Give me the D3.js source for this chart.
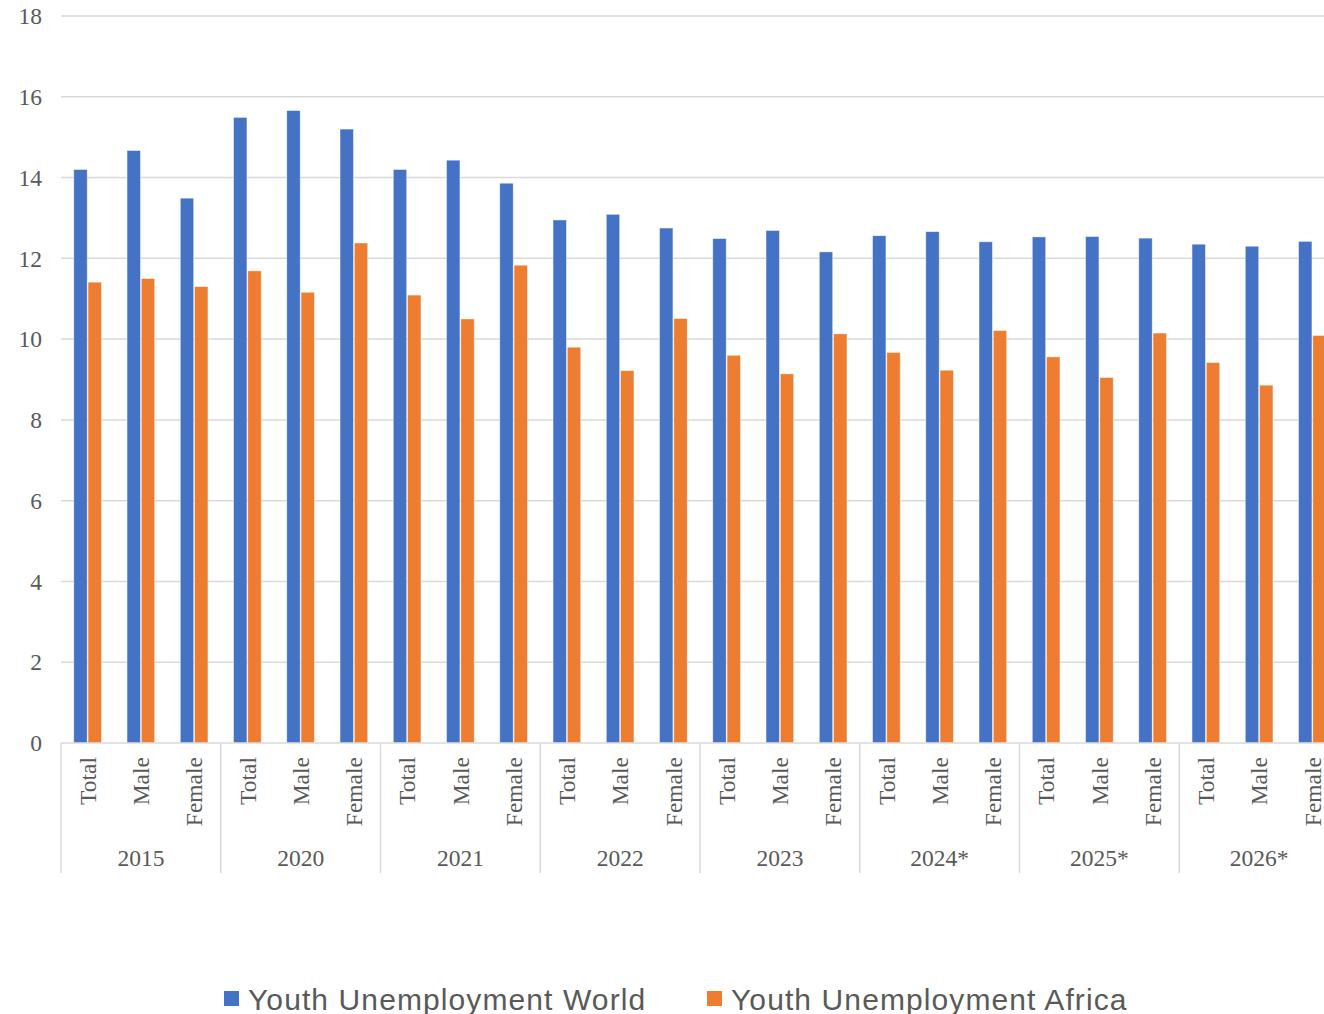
<!DOCTYPE html>
<html>
<head>
<meta charset="utf-8">
<script src="https://cdn.jsdelivr.net/npm/d3@7"></script>
<style>
  html, body { margin: 0; padding: 0; background: #fff; overflow: hidden; }
</style>
</head>
<body>
<svg id="chart"></svg>
<script>
// chart data
var years = ["2015", "2020", "2021", "2022", "2023", "2024*", "2025*", "2026*"];
var genders = ["Total", "Male", "Female"];
var seriesNames = ["Youth Unemployment World", "Youth Unemployment Africa"];
var world = [14.2, 14.67, 13.49, 15.49, 15.66, 15.2, 14.2, 14.43, 13.86, 12.95, 13.09, 12.75,
             12.49, 12.69, 12.16, 12.56, 12.66, 12.41, 12.53, 12.54, 12.5, 12.35, 12.3, 12.42];
var africa = [11.41, 11.5, 11.3, 11.69, 11.16, 12.38, 11.09, 10.5, 11.83, 9.8, 9.22, 10.51,
              9.6, 9.14, 10.13, 9.67, 9.23, 10.21, 9.56, 9.05, 10.15, 9.42, 8.86, 10.09];
var yTicks = [0, 2, 4, 6, 8, 10, 12, 14, 16, 18];
var colors = ["#4472C4", "#ED7D31"];

var width = 1324, height = 1014;
var plotLeft = 61, plotRight = 1339, plotTop = 16, plotBottom = 743;
var textColor = "#595959";
var serif = "'Liberation Serif', 'Times New Roman', serif";
var labelSize = "23.5px";

var svg = d3.select("#chart")
    .attr("width", width)
    .attr("height", height);

// one row per bar pair
var rows = [];
years.forEach((yr, i) => {
    genders.forEach((g, j) => {
        var k = i * 3 + j;
        rows.push({ key: yr + "|" + g, year: yr, gender: g, values: [world[k], africa[k]] });
    });
});

var x = d3.scaleBand()
    .domain(rows.map(d => d.key))
    .range([plotLeft, plotRight])
    .padding(0);

var bw = x.bandwidth();
var xs = d3.scaleBand()
    .domain([0, 1])
    .range([bw * 0.24, bw * 0.76])
    .paddingInner(0.06);

var y = d3.scaleLinear()
    .domain([0, 18])
    .range([plotBottom, plotTop]);

// gridlines
svg.append("g")
    .selectAll("line")
    .data(yTicks.filter(d => d > 0))
    .join("line")
    .attr("x1", plotLeft)
    .attr("x2", width)
    .attr("y1", d => y(d))
    .attr("y2", d => y(d))
    .attr("stroke", "#d9d9d9")
    .attr("stroke-width", 1.5);

// y labels
svg.append("g")
    .selectAll("text")
    .data(yTicks)
    .join("text")
    .attr("x", 42)
    .attr("y", d => y(d))
    .attr("dy", "0.35em")
    .attr("text-anchor", "end")
    .style("font-family", serif)
    .style("font-size", labelSize)
    .attr("fill", textColor)
    .text(d => d);

// bars
var groups = svg.append("g")
    .selectAll("g")
    .data(rows)
    .join("g")
    .attr("transform", d => `translate(${x(d.key)},0)`);

groups.selectAll("rect")
    .data(d => d.values.map((v, i) => ({ v: v, i: i })))
    .join("rect")
    .attr("x", d => xs(d.i))
    .attr("width", xs.bandwidth())
    .attr("y", d => y(d.v))
    .attr("height", d => y(0) - y(d.v))
    .attr("fill", d => colors[d.i])
    .attr("stroke", "#fff")
    .attr("stroke-opacity", 0.6)
    .attr("stroke-width", 0.75);

// x axis line
svg.append("line")
    .attr("x1", plotLeft)
    .attr("x2", width)
    .attr("y1", plotBottom)
    .attr("y2", plotBottom)
    .attr("stroke", "#d9d9d9")
    .attr("stroke-width", 1.5);

// group separators
var groupW = bw * 3;
svg.append("g")
    .selectAll("line")
    .data(d3.range(years.length + 1))
    .join("line")
    .attr("x1", d => plotLeft + d * groupW)
    .attr("x2", d => plotLeft + d * groupW)
    .attr("y1", plotBottom)
    .attr("y2", 873)
    .attr("stroke", "#d9d9d9")
    .attr("stroke-width", 1.5);

// gender labels
svg.append("g")
    .selectAll("text")
    .data(rows)
    .join("text")
    .attr("transform", d => `translate(${x(d.key) + bw / 2},757) rotate(-90)`)
    .attr("dy", "0.35em")
    .attr("text-anchor", "end")
    .style("font-family", serif)
    .style("font-size", labelSize)
    .attr("fill", textColor)
    .text(d => d.gender);

// year labels
svg.append("g")
    .selectAll("text")
    .data(years)
    .join("text")
    .attr("x", (d, i) => plotLeft + i * groupW + groupW / 2)
    .attr("y", 858)
    .attr("dy", "0.35em")
    .attr("text-anchor", "middle")
    .style("font-family", serif)
    .style("font-size", labelSize)
    .attr("fill", textColor)
    .text(d => d);

// legend
var legendX = [224, 707];
var legend = svg.append("g")
    .selectAll("g")
    .data(seriesNames)
    .join("g")
    .attr("transform", (d, i) => `translate(${legendX[i]},991)`);

legend.append("rect")
    .attr("width", 15)
    .attr("height", 15)
    .attr("fill", (d, i) => colors[i]);

legend.append("text")
    .attr("x", 24)
    .attr("y", 8)
    .attr("dy", "0.35em")
    .style("font-family", "'Liberation Sans', Arial, sans-serif")
    .style("font-size", "30px")
    .style("letter-spacing", "1.1px")
    .attr("fill", textColor)
    .text(d => d);
</script>
</body>
</html>
